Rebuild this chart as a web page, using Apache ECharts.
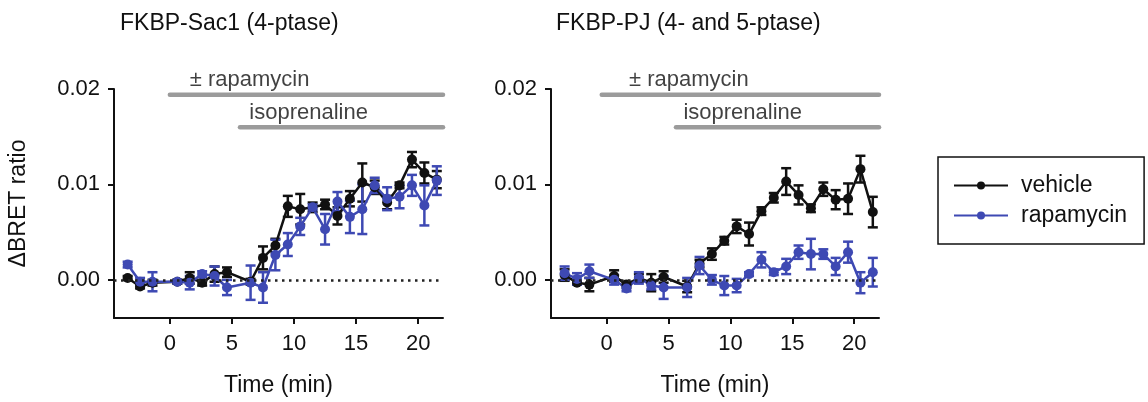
<!DOCTYPE html>
<html><head><meta charset="utf-8">
<script src="https://cdn.jsdelivr.net/npm/echarts@6/dist/echarts.min.js"></script>
<style>html,body{margin:0;padding:0;background:#fff}#c{width:1148px;height:402px}</style>
</head><body><div id="c"></div>
<script>
// ---- data ----
const time = [-3.4,-2.4,-1.4,0.6,1.6,2.6,3.6,4.6,6.5,7.5,8.5,9.5,10.5,11.5,12.5,13.5,14.5,15.5,16.5,17.5,18.5,19.5,20.5,21.5];

const sac1Vehicle    = [0.0002,-0.0007,-0.0003,-0.0002,0.0002,-0.0003,0.0006,0.0008,-0.0002,0.0023,0.0036,0.0077,0.0074,0.0076,0.0079,0.0067,0.0085,0.0102,0.0097,0.0081,0.0099,0.0126,0.0112,0.0105];
const sac1VehicleErr = [0.0002,0.0002,0.0003,0.0002,0.0006,0.0003,0.0008,0.0005,0.0003,0.0012,0.0007,0.0011,0.0016,0.0005,0.0005,0.0009,0.0008,0.0020,0.0007,0.0007,0.0003,0.0008,0.0011,0.0009];
const sac1Rapa       = [0.0016,-0.0002,-0.0002,-0.0002,-0.0003,0.0006,0.0004,-0.0008,-0.0003,-0.0008,0.0026,0.0037,0.0056,0.0076,0.0053,0.0082,0.0066,0.0074,0.0099,0.0085,0.0087,0.0099,0.0078,0.0104];
const sac1RapaErr    = [0.0003,0.0004,0.0010,0.0002,0.0007,0.0003,0.0010,0.0008,0.0018,0.0016,0.0016,0.0012,0.0009,0.0003,0.0016,0.0010,0.0017,0.0026,0.0008,0.0012,0.0012,0.0011,0.0021,0.0015];

const pjVehicle      = [0.0005,-0.0003,-0.0005,0.0004,-0.0005,0.0002,-0.0003,0.0003,-0.0007,0.0017,0.0027,0.0041,0.0056,0.0048,0.0072,0.0086,0.0103,0.0089,0.0075,0.0095,0.0084,0.0085,0.0116,0.0071];
const pjVehicleErr   = [0.0006,0.0002,0.0007,0.0006,0.0003,0.0004,0.0009,0.0006,0.0006,0.0004,0.0006,0.0004,0.0007,0.0012,0.0004,0.0005,0.0014,0.0010,0.0004,0.0007,0.0010,0.0016,0.0014,0.0016];
const pjRapa         = [0.0007,0.0001,0.0009,0.0000,-0.0009,0.0002,-0.0006,-0.0008,-0.0008,0.0015,0.0000,-0.0006,-0.0006,0.0006,0.0021,0.0008,0.0014,0.0029,0.0027,0.0027,0.0014,0.0029,-0.0003,0.0008];
const pjRapaErr      = [0.0007,0.0006,0.0007,0.0005,0.0003,0.0006,0.0004,0.0012,0.0010,0.0009,0.0005,0.0010,0.0007,0.0002,0.0008,0.0003,0.0008,0.0007,0.0016,0.0005,0.0009,0.0011,0.0011,0.0015];

const panelTitles = ['FKBP-Sac1 (4-ptase)', 'FKBP-PJ (4- and 5-ptase)'];
const seriesNames = ['vehicle', 'rapamycin'];
const xTicks = [0, 5, 10, 15, 20];
const yTicks = [0, 0.01, 0.02];

// treatment bars
const barLabels   = ['± rapamycin', 'isoprenaline'];
const sac1BarStart = [0, 5.65];
const pjBarStart   = [-0.4, 5.6];
const barEnd       = [22, 22];
const barLevel     = [0.0194, 0.0160];
const sac1LabelT   = [1.6, 6.4];
const pjLabelT     = [1.8, 6.2];
const labelLevel   = [0.0209, 0.0175];

// ---- styling ----
const FONT = "'Liberation Sans', Arial, sans-serif";
const BLACK = '#111111';
const BLUE = '#3e49b3';
const GRAY = '#9b9b9b';

function errSeries(idx, vals, errs, color) {
  return {
    type: 'custom', xAxisIndex: idx, yAxisIndex: idx, silent: true, clip: false, z: 3,
    data: time.map((t, i) => [t, vals[i], errs[i]]),
    encode: { x: 0, y: 1 },
    renderItem: function (params, api) {
      const x = api.value(0), y = api.value(1), e = api.value(2);
      const top = api.coord([x, y + e]);
      const bot = api.coord([x, y - e]);
      const hw = 5;
      const st = { stroke: color, lineWidth: 2.5 };
      return { type: 'group', children: [
        { type: 'line', shape: { x1: top[0], y1: top[1], x2: bot[0], y2: bot[1] }, style: st },
        { type: 'line', shape: { x1: top[0] - hw, y1: top[1], x2: top[0] + hw, y2: top[1] }, style: st },
        { type: 'line', shape: { x1: bot[0] - hw, y1: bot[1], x2: bot[0] + hw, y2: bot[1] }, style: st }
      ]};
    }
  };
}
function lineSeries(idx, name, vals, color, extra) {
  return Object.assign({
    type: 'line', name: name, xAxisIndex: idx, yAxisIndex: idx, z: 4,
    data: time.map((t, i) => [t, vals[i]]),
    symbol: 'circle', symbolSize: 10, showSymbol: true,
    itemStyle: { color: color }, lineStyle: { color: color, width: 2.5 },
    emphasis: { disabled: true }, silent: true, clip: false
  }, extra || {});
}
function treatmentSeries(idx, starts, labelTs) {
  const out = [];
  for (let k = 0; k < barLabels.length; k++) {
    out.push({
      type: 'line', xAxisIndex: idx, yAxisIndex: idx, silent: true, clip: false, z: 2,
      data: [[starts[k], barLevel[k]], [barEnd[k], barLevel[k]]],
      symbol: 'none', lineStyle: { color: GRAY, width: 4.5, cap: 'round' }
    });
    out.push({
      type: 'scatter', xAxisIndex: idx, yAxisIndex: idx, silent: true, clip: false, z: 2,
      data: [[labelTs[k], labelLevel[k]]], symbolSize: 0,
      label: { show: true, position: 'right', distance: 0, formatter: barLabels[k],
               fontSize: 22, color: BLACK, fontFamily: FONT }
    });
  }
  return out;
}
function xAxis(idx) {
  return {
    type: 'value', gridIndex: idx, min: -4.5, max: 22,
    axisLine: { show: true, onZero: false, lineStyle: { color: BLACK, width: 2 } },
    axisTick: { show: true, customValues: xTicks, length: 6, lineStyle: { color: BLACK, width: 2 } },
    axisLabel: { customValues: xTicks, fontSize: 22, color: BLACK, margin: 15, fontFamily: FONT },
    splitLine: { show: false },
    name: 'Time (min)', nameLocation: 'middle', nameGap: 56,
    nameTextStyle: { fontSize: 23, color: BLACK, fontFamily: FONT }
  };
}
function yAxis(idx, withName) {
  const a = {
    type: 'value', gridIndex: idx, min: -0.004, max: 0.02,
    axisLine: { show: true, onZero: false, lineStyle: { color: BLACK, width: 2 } },
    axisTick: { show: true, customValues: yTicks, length: 6, lineStyle: { color: BLACK, width: 2 } },
    axisLabel: { customValues: yTicks, fontSize: 22, color: BLACK, margin: 14, fontFamily: FONT,
                 formatter: v => v.toFixed(2) },
    splitLine: { show: false }
  };
  if (withName) {
    a.name = 'ΔBRET ratio'; a.nameLocation = 'middle'; a.nameGap = 84; a.nameRotate = 90;
    a.nameTextStyle = { fontSize: 23, color: BLACK, fontFamily: FONT };
  }
  return a;
}
const zeroLine = {
  silent: true, symbol: 'none', label: { show: false },
  lineStyle: { type: [2.5, 4.5], color: '#222', width: 2.5 },
  data: [{ yAxis: 0 }]
};

const chart = echarts.init(document.getElementById('c'), null, { renderer: 'canvas' });
chart.setOption({
  animation: false,
  backgroundColor: '#fff',
  textStyle: { fontFamily: FONT },
  title: [
    { text: panelTitles[0], left: 120, top: 12, padding: 0, textStyle: { fontSize: 23, fontWeight: 'normal', color: BLACK, fontFamily: FONT } },
    { text: panelTitles[1], left: 556, top: 12, padding: 0, textStyle: { fontSize: 23, fontWeight: 'normal', color: BLACK, fontFamily: FONT } }
  ],
  grid: [
    { left: 114, top: 89, width: 329, height: 230 },
    { left: 551, top: 89, width: 328, height: 230 }
  ],
  xAxis: [xAxis(0), xAxis(1)],
  yAxis: [yAxis(0, true), yAxis(1, false)],
  legend: {
    data: seriesNames, orient: 'vertical', left: 938, top: 157,
    borderColor: BLACK, borderWidth: 1.5, borderRadius: 0,
    padding: [17, 17, 17, 15], itemWidth: 54, itemHeight: 10, itemGap: 7,
    textStyle: { fontSize: 23, color: BLACK, fontFamily: FONT, lineHeight: 23, padding: [0, 0, 0, 8] },
    selectedMode: false
  },
  series: [
    ...treatmentSeries(0, sac1BarStart, sac1LabelT),
    ...treatmentSeries(1, pjBarStart, pjLabelT),
    errSeries(0, sac1Vehicle, sac1VehicleErr, BLACK),
    lineSeries(0, seriesNames[0], sac1Vehicle, BLACK, { markLine: zeroLine }),
    errSeries(0, sac1Rapa, sac1RapaErr, BLUE),
    lineSeries(0, seriesNames[1], sac1Rapa, BLUE),
    errSeries(1, pjVehicle, pjVehicleErr, BLACK),
    lineSeries(1, seriesNames[0], pjVehicle, BLACK, { markLine: zeroLine }),
    errSeries(1, pjRapa, pjRapaErr, BLUE),
    lineSeries(1, seriesNames[1], pjRapa, BLUE)
  ]
});
</script></body></html>
